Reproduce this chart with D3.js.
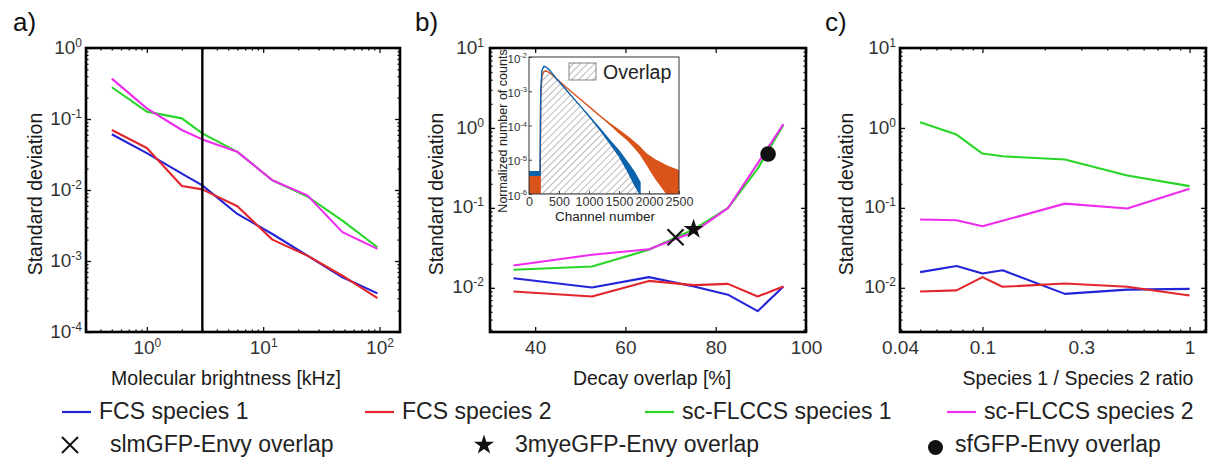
<!DOCTYPE html>
<meta charset="utf-8">
<head>
  <title>Standard deviation panels</title>
</head>

<style>
body {
  margin: 0;
  background: #fff;
  font-family: "Liberation Sans", Arial, Helvetica, sans-serif;
}
svg { display: block; }
</style>

<body>
  <div id="content"></div>

  <script src="https://cdnjs.cloudflare.com/ajax/libs/d3/7.8.5/d3.min.js"></script>

  <script>
// Series
var seriesNames = ['FCS species 1', 'FCS species 2', 'sc-FLCCS species 1', 'sc-FLCCS species 2'];
var seriesColors = ['#2323d8', '#e3262b', '#27d627', '#ee2bee'];

// a) molecular brightness [kHz]
var brightness = [0.5, 1, 2, 3, 6, 12, 24, 48, 96];
var aFcs1 = [0.061, 0.033, 0.017, 0.0116, 0.0046, 0.0024, 0.00119, 0.00059, 0.00035];
var aFcs2 = [0.07, 0.039, 0.0114, 0.0102, 0.0059, 0.002, 0.00119, 0.00062, 0.0003];
var aScf1 = [0.28, 0.127, 0.102, 0.0627, 0.0345, 0.0137, 0.0081, 0.0037, 0.00156];
var aScf2 = [0.37, 0.141, 0.07, 0.0516, 0.0345, 0.0137, 0.0084, 0.00255, 0.00148];
var aCutoff = 3;

// b) decay overlap [%]
var overlap = [35.2, 52.6, 65.2, 75.2, 82.7, 89.3, 95];
var bFcs1 = [0.0132, 0.0101, 0.0136, 0.0104, 0.0082, 0.0051, 0.0104];
var bFcs2 = [0.009, 0.0078, 0.0122, 0.0108, 0.0112, 0.0078, 0.0104];
var bScf1 = [0.0168, 0.0185, 0.0299, 0.054, 0.099, 0.31, 1.09];
var bScf2 = [0.019, 0.0259, 0.0304, 0.05, 0.099, 0.36, 1.12];
var bTicks = [40, 60, 80, 100];

// fluorophore pairs marked in b)
var pairNames = ['slmGFP-Envy overlap', '3myeGFP-Envy overlap', 'sfGFP-Envy overlap'];
var pairOverlap = [71.1, 75.1, 91.6];
var pairStd = [0.043, 0.054, 0.473];

// c) species ratio
var ratio = [0.05, 0.075, 0.1, 0.125, 0.25, 0.5, 1];
var cFcs1 = [0.0157, 0.0187, 0.0151, 0.0166, 0.0084, 0.0095, 0.0097];
var cFcs2 = [0.009, 0.0093, 0.0136, 0.0103, 0.0113, 0.0103, 0.008];
var cScf1 = [1.18, 0.825, 0.478, 0.442, 0.402, 0.254, 0.187];
var cScf2 = [0.0715, 0.07, 0.059, 0.069, 0.113, 0.098, 0.173];
var cTicks = [0.04, 0.1, 0.3, 1];
var cTickLabels = ['0.04', '0.1', '0.3', '1'];

// inset: decay histograms (upper / lower edge of the noisy trace)
var channel = [0, 185, 195, 215, 250, 290, 350, 450, 600, 750, 900, 1050, 1200, 1350, 1500, 1650, 1750, 1850, 1950, 2100, 2300, 2500];
var orangeHi = [4.0e-6, 4.0e-6, 6.3e-4, 2.8e-3, 3.8e-3, 3.9e-3, 3.4e-3, 2.4e-3, 1.4e-3, 8.3e-4, 5.0e-4, 3.0e-4, 1.8e-4, 1.12e-4, 7.2e-5, 4.6e-5, 3.3e-5, 2.3e-5, 1.5e-5, 1.0e-5, 6.5e-6, 4.8e-6];
var orangeLo = [1e-6, 1e-6, 6.3e-4, 2.8e-3, 3.8e-3, 3.9e-3, 3.4e-3, 2.4e-3, 1.4e-3, 8.3e-4, 5.0e-4, 3.0e-4, 1.8e-4, 1.08e-4, 6.2e-5, 3.7e-5, 2.4e-5, 1.5e-5, 8.0e-6, 3.0e-6, 1e-6, 1e-6];
var blueHi = [4.5e-6, 4.5e-6, 1.0e-3, 4.0e-3, 5.4e-3, 5.0e-3, 4.0e-3, 2.4e-3, 1.2e-3, 6.0e-4, 3.0e-4, 1.5e-4, 7.4e-5, 3.6e-5, 1.8e-5, 8.0e-6, 4.5e-6, 2.2e-6, 1e-6, 1e-6, 1e-6, 1e-6];
var blueLo = [3.5e-6, 3.5e-6, 1.0e-3, 4.0e-3, 5.4e-3, 5.0e-3, 4.0e-3, 2.4e-3, 1.2e-3, 6.0e-4, 3.0e-4, 1.46e-4, 6.9e-5, 3.0e-5, 1.3e-5, 4.5e-6, 2.0e-6, 1e-6, 1e-6, 1e-6, 1e-6, 1e-6];
var channelTicks = [0, 500, 1000, 1500, 2000, 2500];
var countTicks = [1e-6, 1e-5, 1e-4, 1e-3, 1e-2];

var FONT = '"Liberation Sans", Arial, Helvetica, sans-serif';

var svg = d3.select('#content').append('svg')
  .attr('width', 1210)
  .attr('height', 459)
  .attr('font-family', FONT);

var defs = svg.append('defs');
defs.append('pattern')
  .attr('id', 'hatch')
  .attr('patternUnits', 'userSpaceOnUse')
  .attr('width', 5).attr('height', 5)
  .attr('patternTransform', 'rotate(45)')
  .append('line')
  .attr('x1', 0).attr('y1', 0).attr('x2', 0).attr('y2', 5)
  .attr('stroke', '#666').attr('stroke-width', 0.9);

function isPow(d) {
  var l = Math.log10(d);
  return Math.abs(l - Math.round(l)) < 1e-6;
}

function powLabel(t, d, big, small, raise) {
  var e = Math.round(Math.log10(d));
  t.text(null);
  t.append('tspan').attr('font-size', big).text('10');
  t.append('tspan').attr('font-size', small).attr('dy', -raise).text(e);
}

function tickSet(g, axis, vals, size, tr) {
  g.append('g').attr('transform', tr)
    .call(axis.tickValues(vals).tickSize(-size).tickFormat(''))
    .call(function(s) {
      s.select('.domain').remove();
      s.selectAll('line').attr('stroke', '#111').attr('stroke-width', 1.3);
    });
}

function panel(cfg) {
  var x = cfg.x, y = cfg.y;
  var x0 = x.range()[0], x1 = x.range()[1];
  var yT = y.range()[1], yB = y.range()[0];
  var g = svg.append('g');

  var yAll = y.ticks();
  var yMajor = yAll.filter(isPow);
  var yMinor = yAll.filter(function(d) { return !isPow(d); });

  // ticks on all four sides, pointing inwards
  tickSet(g, d3.axisLeft(y), yMajor, 5, 'translate(' + x0 + ',0)');
  tickSet(g, d3.axisLeft(y), yMinor, 2.5, 'translate(' + x0 + ',0)');
  tickSet(g, d3.axisRight(y), yMajor, 5, 'translate(' + x1 + ',0)');
  tickSet(g, d3.axisRight(y), yMinor, 2.5, 'translate(' + x1 + ',0)');
  tickSet(g, d3.axisBottom(x), cfg.xMajor, 5, 'translate(0,' + yB + ')');
  tickSet(g, d3.axisTop(x), cfg.xMajor, 5, 'translate(0,' + yT + ')');
  if (cfg.xMinor.length) {
    tickSet(g, d3.axisBottom(x), cfg.xMinor, 2.5, 'translate(0,' + yB + ')');
    tickSet(g, d3.axisTop(x), cfg.xMinor, 2.5, 'translate(0,' + yT + ')');
  }

  // y tick labels
  var yl = g.append('g').attr('transform', 'translate(' + x0 + ',0)')
    .call(d3.axisLeft(y).tickValues(yMajor).tickSize(0).tickPadding(cfg.yPad).tickFormat(''));
  yl.attr('font-size', null).attr('font-family', null);
  yl.select('.domain').remove();
  yl.selectAll('.tick text').attr('fill', '#333')
    .each(function(d) { powLabel(d3.select(this), d, 19, 12, 7); });

  // x tick labels
  var xl = g.append('g').attr('transform', 'translate(0,' + yB + ')')
    .call(d3.axisBottom(x).tickValues(cfg.xLabelVals).tickSize(0).tickPadding(9)
      .tickFormat(function(d, i) { return cfg.xLabelText ? cfg.xLabelText[i] : ''; }));
  xl.attr('font-size', null).attr('font-family', null);
  xl.select('.domain').remove();
  xl.selectAll('.tick text').attr('fill', '#333').attr('font-size', 19);
  if (!cfg.xLabelText) {
    xl.selectAll('.tick text').each(function(d) { powLabel(d3.select(this), d, 19, 12, 7); });
  }

  // data lines
  var line = d3.line()
    .x(function(d, i) { return x(cfg.xs[i]); })
    .y(function(d) { return y(d); });
  cfg.series.forEach(function(s, k) {
    g.append('path')
      .attr('d', line(s))
      .attr('fill', 'none')
      .attr('stroke', seriesColors[k])
      .attr('stroke-width', 2.1)
      .attr('stroke-linejoin', 'round');
  });

  // frame
  g.append('rect')
    .attr('x', x0).attr('y', yT)
    .attr('width', x1 - x0).attr('height', yB - yT)
    .attr('fill', 'none').attr('stroke', '#000').attr('stroke-width', 2.6);

  // titles
  g.append('text')
    .attr('transform', 'translate(' + cfg.yTitleX + ',194) rotate(-90)')
    .attr('text-anchor', 'middle').attr('font-size', 19.5).attr('fill', '#1a1a1a')
    .text('Standard deviation');
  g.append('text')
    .attr('x', cfg.xTitleX).attr('y', 385)
    .attr('text-anchor', 'middle').attr('font-size', 19.5).attr('fill', '#1a1a1a')
    .text(cfg.xTitle);
  svg.append('text')
    .attr('x', cfg.tagX).attr('y', 31)
    .attr('font-size', 26).attr('fill', '#111')
    .text(cfg.tag);

  return g;
}

function logMinor(scale) {
  return scale.ticks().filter(function(d) { return !isPow(d); });
}
function logMajor(scale) {
  return scale.ticks().filter(isPow);
}

// ---- a)
var xa = d3.scaleLog().domain([0.3, 150]).range([86, 400]);
var ya = d3.scaleLog().domain([1e-4, 1]).range([332, 48]);
var ga = panel({
  x: xa, y: ya, xs: brightness,
  series: [aFcs1, aFcs2, aScf1, aScf2],
  xMajor: logMajor(xa), xMinor: logMinor(xa), xLabelVals: logMajor(xa),
  yPad: 4, yTitleX: 41.5, xTitleX: 226, xTitle: 'Molecular brightness [kHz]',
  tag: 'a)', tagX: 13
});
ga.append('line')
  .attr('x1', xa(aCutoff)).attr('x2', xa(aCutoff))
  .attr('y1', ya.range()[1]).attr('y2', ya.range()[0])
  .attr('stroke', '#000').attr('stroke-width', 2.4);

// ---- b)
var xb = d3.scaleLinear().domain([30, 100]).range([490, 806]);
var yb = d3.scaleLog().domain([0.0028, 10]).range([332, 48]);
var gb = panel({
  x: xb, y: yb, xs: overlap,
  series: [bFcs1, bFcs2, bScf1, bScf2],
  xMajor: bTicks, xMinor: [], xLabelVals: bTicks, xLabelText: bTicks.map(String),
  yPad: 6, yTitleX: 442.5, xTitleX: 652, xTitle: 'Decay overlap [%]',
  tag: 'b)', tagX: 415
});

// pair markers
var xMark = 'M-8,-8L8,8M-8,8L8,-8';
var starPath = d3.symbol().type(d3.symbolStar).size(125)();
gb.append('path')
  .attr('transform', 'translate(' + xb(pairOverlap[0]) + ',' + yb(pairStd[0]) + ')')
  .attr('d', xMark).attr('stroke', '#111').attr('stroke-width', 2.2).attr('fill', 'none');
gb.append('path')
  .attr('transform', 'translate(' + xb(pairOverlap[1]) + ',' + yb(pairStd[1]) + ')')
  .attr('d', starPath).attr('fill', '#111');
gb.append('circle')
  .attr('cx', xb(pairOverlap[2])).attr('cy', yb(pairStd[2]))
  .attr('r', 7.8).attr('fill', '#111');

// ---- inset in b)
var ix = d3.scaleLinear().domain([0, 2500]).range([529, 679]);
var iy = d3.scaleLog().domain([1e-6, 1e-2]).range([194, 57]);
var gi = svg.append('g');
gi.append('rect').attr('x', 529).attr('y', 57).attr('width', 150).attr('height', 137).attr('fill', '#fff');
gi.append('clipPath').attr('id', 'insetClip')
  .append('rect').attr('x', 529).attr('y', 57).attr('width', 150).attr('height', 137);
var gic = gi.append('g').attr('clip-path', 'url(#insetClip)');

var hatchTop = channel.map(function(c, i) { return Math.min(blueLo[i], orangeLo[i]); });
gic.append('path')
  .attr('d', d3.area()
    .x(function(d, i) { return ix(channel[i]); })
    .y0(iy(1e-6))
    .y1(function(d) { return iy(d); })(hatchTop))
  .attr('fill', 'url(#hatch)').attr('stroke', '#777').attr('stroke-width', 0.6);

function band(hi, lo, color) {
  var area = d3.area()
    .defined(function(d, i) { return hi[i] > 1e-6; })
    .x(function(d, i) { return ix(channel[i]); })
    .y0(function(d, i) { return iy(lo[i]); })
    .y1(function(d, i) { return iy(hi[i]); });
  gic.append('path')
    .attr('d', area(channel))
    .attr('fill', color).attr('stroke', color).attr('stroke-width', 1.4)
    .attr('stroke-linejoin', 'round');
}
band(orangeHi, orangeLo, '#d9531a');
band(blueHi, blueLo, '#0c63ac');

tickSet(gi, d3.axisLeft(iy), countTicks, 3, 'translate(529,0)');
tickSet(gi, d3.axisBottom(ix), channelTicks, 3, 'translate(0,194)');
gi.selectAll('line').attr('stroke-width', 0.9).attr('stroke', '#333');
gi.append('rect').attr('x', 529).attr('y', 57).attr('width', 150).attr('height', 137)
  .attr('fill', 'none').attr('stroke', '#333').attr('stroke-width', 1);

var iyl = gi.append('g').attr('transform', 'translate(529,0)')
  .call(d3.axisLeft(iy).tickValues(countTicks).tickSize(0).tickPadding(2).tickFormat(''));
iyl.attr('font-size', null).attr('font-family', null);
iyl.select('.domain').remove();
iyl.selectAll('.tick text').attr('fill', '#333')
  .each(function(d) { powLabel(d3.select(this), d, 11.5, 7.5, 4.5); });

var ixl = gi.append('g').attr('transform', 'translate(0,194)')
  .call(d3.axisBottom(ix).tickValues(channelTicks).tickSize(0).tickPadding(3).tickFormat(d3.format('d')));
ixl.attr('font-size', null).attr('font-family', null);
ixl.select('.domain').remove();
ixl.selectAll('.tick text').attr('fill', '#333').attr('font-size', 12.5);

gi.append('text').attr('x', 605).attr('y', 221).attr('text-anchor', 'middle')
  .attr('font-size', 13.5).attr('fill', '#222').text('Channel number');
gi.append('text').attr('transform', 'translate(506.5,131) rotate(-90)').attr('text-anchor', 'middle')
  .attr('font-size', 12.5).attr('fill', '#222').text('Normalized number of counts');

gi.append('rect').attr('x', 569).attr('y', 63).attr('width', 27).attr('height', 17)
  .attr('fill', 'url(#hatch)').attr('stroke', '#666').attr('stroke-width', 0.8);
gi.append('text').attr('x', 603).attr('y', 79).attr('font-size', 19.5).attr('fill', '#222').text('Overlap');

// ---- c)
var xc = d3.scaleLog().domain([0.04, 1.2]).range([900, 1206]);
var yc = d3.scaleLog().domain([0.0028, 10]).range([332, 48]);
panel({
  x: xc, y: yc, xs: ratio,
  series: [cFcs1, cFcs2, cScf1, cScf2],
  xMajor: logMajor(xc), xMinor: logMinor(xc), xLabelVals: cTicks, xLabelText: cTickLabels,
  yPad: 4, yTitleX: 853, xTitleX: 1078, xTitle: 'Species 1 / Species 2 ratio',
  tag: 'c)', tagX: 825
});

// ---- legend
var legLineX = [62, 365, 645, 947];
var leg = svg.append('g').attr('font-size', 23).attr('fill', '#222');
seriesNames.forEach(function(name, k) {
  leg.append('line')
    .attr('x1', legLineX[k]).attr('x2', legLineX[k] + 29)
    .attr('y1', 412).attr('y2', 412)
    .attr('stroke', seriesColors[k]).attr('stroke-width', 2.2);
  leg.append('text').attr('x', legLineX[k] + 37).attr('y', 419).text(name);
});

var pairLegX = [70, 484, 935.5];
var pairTextX = [110, 515, 955];
leg.append('path').attr('transform', 'translate(' + pairLegX[0] + ',445)')
  .attr('d', xMark).attr('stroke', '#111').attr('stroke-width', 2).attr('fill', 'none');
leg.append('path').attr('transform', 'translate(' + pairLegX[1] + ',445)')
  .attr('d', starPath).attr('fill', '#111');
leg.append('circle').attr('cx', pairLegX[2]).attr('cy', 447.5).attr('r', 7.5).attr('fill', '#111');
pairNames.forEach(function(name, k) {
  leg.append('text').attr('x', pairTextX[k]).attr('y', 452).text(name);
});
  </script>
</body>
</html>
